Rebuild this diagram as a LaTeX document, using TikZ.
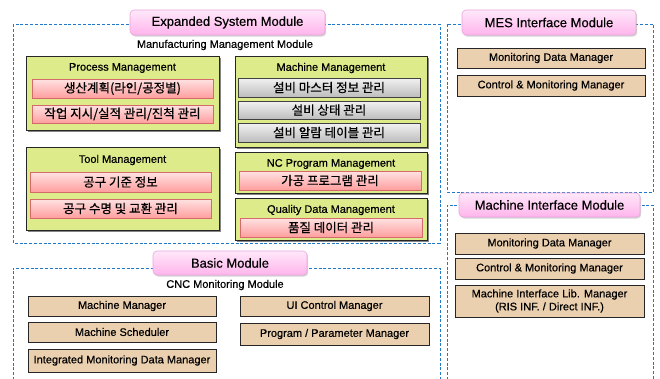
\documentclass[tikz,border=0pt]{standalone}
\usepackage{fontspec}
\setmainfont{Liberation Sans}[FakeBold=0.4]
\newfontfamily\kr{Noto Sans CJK KR}[FakeBold=0.6]
\usetikzlibrary{shadows}
\definecolor{dashblue}{HTML}{1F78C8}
\definecolor{greenfill}{HTML}{DDEB8A}
\definecolor{tanfill}{HTML}{EBD0B0}
\definecolor{pinktop}{HTML}{FFE2E2}
\definecolor{pinkbot}{HTML}{FF9E9E}
\definecolor{pinkdraw}{HTML}{D46A6A}
\definecolor{graytop}{HTML}{F2F2F2}
\definecolor{graybot}{HTML}{BDBDBD}
\definecolor{pilltop}{HTML}{FFE8FA}
\definecolor{pillbot}{HTML}{FFB4EC}
\definecolor{pilldraw}{HTML}{E9A6DC}
\tikzset{
  basefont/.style={font=\fontsize{11}{13}\selectfont},
  krfont/.style={font=\kr\fontsize{12.5}{14}\selectfont},
  dashbox/.style={draw=dashblue, line width=1pt, dash pattern=on 3pt off 1.8pt},
  pill/.style={rounded corners=4pt, top color=pilltop, bottom color=pillbot, draw=pilldraw, line width=0.6pt,
    drop shadow={shadow xshift=1.2pt, shadow yshift=-1.5pt, fill=gray, opacity=0.35},
    inner sep=0pt, font=\fontsize{13}{15}\selectfont},
  greenbox/.style={fill=greenfill, draw=black!85, line width=0.8pt,
    drop shadow={shadow xshift=1.6pt, shadow yshift=-1.6pt, fill=black!60, opacity=0.8}, inner sep=0pt},
  pinkbox/.style={top color=pinktop, bottom color=pinkbot, draw=pinkdraw, line width=0.6pt,
    drop shadow={shadow xshift=1pt, shadow yshift=-1pt, fill=gray, opacity=0.5}, inner sep=0pt, krfont},
  graybox/.style={top color=graytop, bottom color=graybot, draw=black!75, line width=0.7pt,
    drop shadow={shadow xshift=1pt, shadow yshift=-1pt, fill=black!70, opacity=0.8}, inner sep=0pt, krfont},
  tanbox/.style={fill=tanfill, draw=black!85, line width=0.7pt,
    drop shadow={shadow xshift=1.4pt, shadow yshift=-1.4pt, fill=black, opacity=0.85}, inner sep=0pt, basefont, align=center},
  label/.style={inner sep=0pt, basefont}
}
\newcommand{\mybox}[7]{\node[#1, minimum width={(#5-#3)*1pt}, minimum height={(#6-#4)*1pt}] (#2) at ({(#3+#5)/2},{(#4+#6)/2}) {#7};}
\begin{document}
\begin{tikzpicture}[x=1pt,y=-1pt]
\useasboundingbox (0,0) rectangle (660,378);
% dashed module frames
\draw[dashbox] (13,24) rectangle (440,243);
\draw[dashbox] (447,24) rectangle (653,192);
\draw[dashbox] (447,380) -- (447,205) -- (653,205) -- (653,380);
\draw[dashbox] (13,380) -- (13,268) -- (440,268) -- (440,380);
% pills
\mybox{pill}{exp}{130}{10}{325}{35}{Expanded System Module}
\mybox{pill}{mes}{462}{10}{636}{35}{MES Interface Module}
\mybox{pill}{mif}{459}{193}{640}{217}{Machine Interface Module}
\mybox{pill}{basic}{153}{251}{307}{275}{Basic Module}
% Expanded system content
\node[label] (mmm) at (225,45) {Manufacturing Management Module};
\mybox{greenbox}{proc}{26}{56}{219}{130}{}
\node[label] (proct) at (122.5,68) {Process Management};
\mybox{pinkbox}{p1}{32}{79}{213}{98}{생산계획(라인/공정별)}
\mybox{pinkbox}{p2}{32}{105}{213}{123}{작업 지시/실적 관리/진척 관리}
\mybox{greenbox}{tool}{26}{147}{219}{230}{}
\node[label] (toolt) at (122.5,160) {Tool Management};
\mybox{pinkbox}{t1}{30}{172}{211}{192}{공구 기준 정보}
\mybox{pinkbox}{t2}{30}{199}{211}{218}{공구 수명 및 교환 관리}
\mybox{greenbox}{mach}{235}{56}{427}{147}{}
\node[label] (macht) at (331,68) {Machine Management};
\mybox{graybox}{m1}{238}{78}{420}{97}{설비 마스터 정보 관리}
\mybox{graybox}{m2}{238}{101}{420}{119}{설비 상태 관리}
\mybox{graybox}{m3}{238}{123}{420}{142}{설비 알람 테이블 관리}
\mybox{greenbox}{nc}{235}{152}{427}{193}{}
\node[label] (nct) at (331,164) {NC Program Management};
\mybox{pinkbox}{n1}{239}{171}{421}{190}{가공 프로그램 관리}
\mybox{greenbox}{qual}{235}{198}{427}{240}{}
\node[label] (qualt) at (331,210) {Quality Data Management};
\mybox{pinkbox}{q1}{240}{218}{422}{237}{품질 데이터 관리}
% MES
\mybox{tanbox}{mes1}{457}{48}{645}{68}{Monitoring Data Manager}
\mybox{tanbox}{mes2}{457}{75}{645}{96}{Control \& Monitoring Manager}
% Machine interface
\mybox{tanbox}{mi1}{455}{233}{644}{254}{Monitoring Data Manager}
\mybox{tanbox}{mi2}{455}{258}{644}{279}{Control \& Monitoring Manager}
\mybox{tanbox}{mi3}{455}{285}{644}{317}{Machine Interface Lib. Manager\\(RIS INF. / Direct INF.)}
% Basic
\node[label] (cnc) at (225,285) {CNC Monitoring Module};
\mybox{tanbox}{b1}{28}{296}{216}{316}{Machine Manager}
\mybox{tanbox}{b2}{28}{322}{216}{342}{Machine Scheduler}
\mybox{tanbox}{b3}{28}{349}{216}{372}{Integrated Monitoring Data Manager}
\mybox{tanbox}{b4}{240}{296}{429}{316}{UI Control Manager}
\mybox{tanbox}{b5}{240}{323}{429}{345}{Program / Parameter Manager}
\end{tikzpicture}
\end{document}
